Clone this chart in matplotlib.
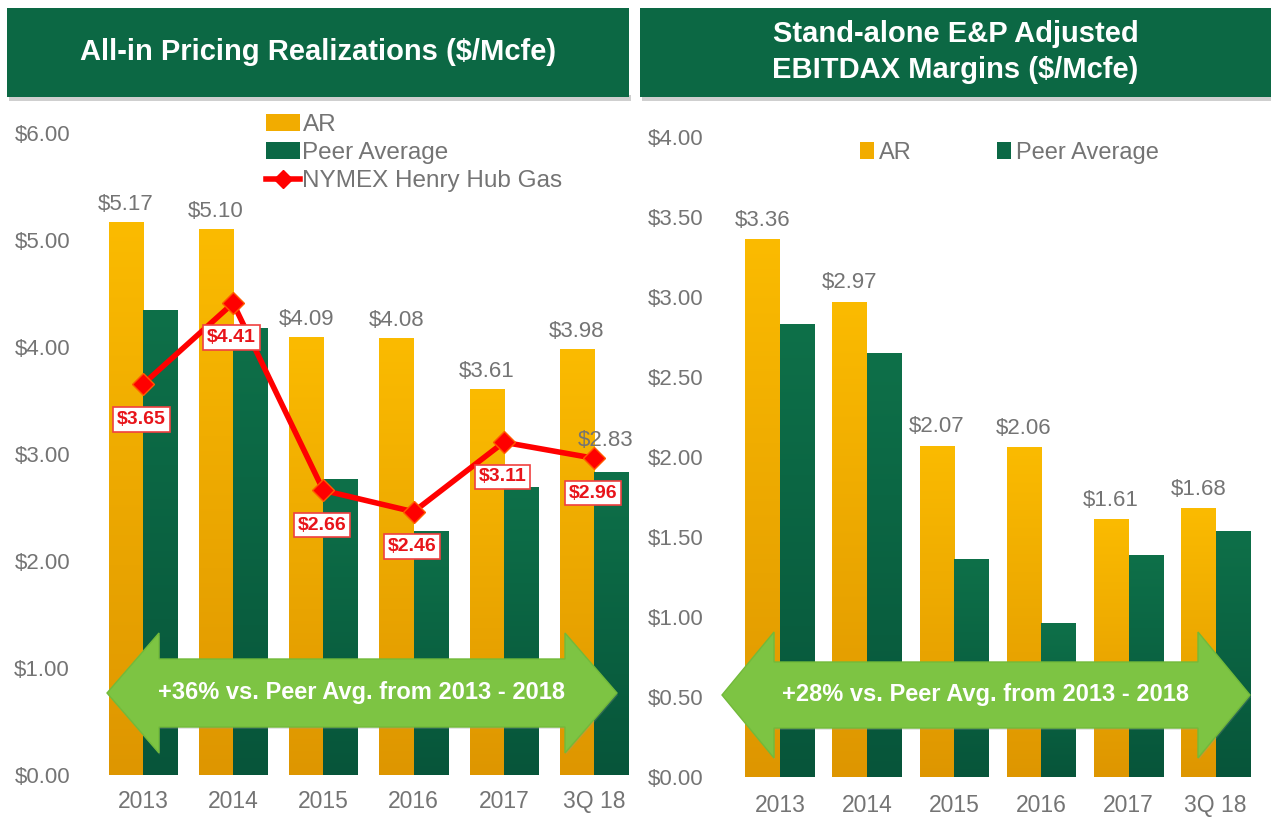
import numpy as np
import matplotlib
matplotlib.use("Agg")
import matplotlib.pyplot as plt
from matplotlib.patches import Polygon, Rectangle
from matplotlib.colors import LinearSegmentedColormap
from matplotlib.lines import Line2D

plt.rcParams['font.family'] = ['Liberation Sans', 'DejaVu Sans']

# data
years = ["2013", "2014", "2015", "2016", "2017", "3Q 18"]
ar_price = [5.17, 5.10, 4.09, 4.08, 3.61, 3.98]
peer_price = [4.35, 4.18, 2.77, 2.28, 2.69, 2.83]
nymex = [3.65, 4.41, 2.66, 2.46, 3.11, 2.96]
ar_margin = [3.36, 2.97, 2.07, 2.06, 1.61, 1.68]
peer_margin = [2.83, 2.65, 1.36, 0.96, 1.39, 1.54]

left_ticks = [0, 1, 2, 3, 4, 5, 6]
right_ticks = [0, 0.5, 1.0, 1.5, 2.0, 2.5, 3.0, 3.5, 4.0]

GOLD = "#F2AC00"
GREEN = "#0B6845"
GRAY = "#747474"
RED = "#FF0000"
HEAD = "#0C6844"
ARROW = "#7DC443"

W, H = 1271, 823
fig = plt.figure(figsize=(W / 100, H / 100), dpi=100)
fig.patch.set_facecolor("white")


def px(x, y):
    return x / W, 1 - y / H


def fbox(x0, y0, x1, y1):
    l, t = px(x0, y0)
    r, b = px(x1, y1)
    return [l, b, r - l, t - b]


gold_cm = LinearSegmentedColormap.from_list("g", ["#DE9600", "#FBBB00"])
green_cm = LinearSegmentedColormap.from_list("e", ["#07553A", "#0E7049"])


def shade(ax, bars, cmap):
    grad = np.linspace(0, 1, 256).reshape(-1, 1)
    for b in bars:
        x0, w, h = b.get_x(), b.get_width(), b.get_height()
        im = ax.imshow(grad, extent=[x0, x0 + w, 0, h], origin="lower",
                       aspect="auto", cmap=cmap, zorder=2)
        im.set_clip_path(b)


def style(ax, ticks, fmt, ypad, xpad):
    for s in ax.spines.values():
        s.set_visible(False)
    ax.set_yticks(ticks)
    ax.set_yticklabels([fmt.format(t) for t in ticks])
    ax.set_xticks(range(len(years)))
    ax.set_xticklabels(years)
    ax.tick_params(axis="y", length=0, pad=ypad, labelsize=16, labelcolor=GRAY)
    ax.tick_params(axis="x", length=0, pad=xpad, labelsize=16.5, labelcolor=GRAY)


def big_arrow(x0, x1, yc, head, body, text):
    hl = 52
    pts = [(x0, yc), (x0 + hl, yc - head), (x0 + hl, yc - body),
           (x1 - hl, yc - body), (x1 - hl, yc - head), (x1, yc),
           (x1 - hl, yc + head), (x1 - hl, yc + body), (x0 + hl, yc + body),
           (x0 + hl, yc + head)]
    sh = Polygon([px(x + 1, y + 2) for x, y in pts], closed=True,
                 transform=fig.transFigure, fc="#9a9a9a", ec="none",
                 alpha=0.25, zorder=5)
    poly = Polygon([px(x, y) for x, y in pts], closed=True,
                   transform=fig.transFigure, fc=ARROW, ec="#72BA3A",
                   lw=1, zorder=6)
    fig.add_artist(sh)
    fig.add_artist(poly)
    tx, ty = px((x0 + x1) / 2, yc)
    fig.text(tx, ty, text, color="white", fontsize=17, fontweight="bold",
             ha="center", va="center", zorder=7)


# header banners
for (x0, x1, title) in [(7, 629, "All-in Pricing Realizations ($/Mcfe)"),
                        (640, 1271, "Stand-alone E&P Adjusted\nEBITDAX Margins ($/Mcfe)")]:
    fig.add_artist(Rectangle(px(x0 + 2, 101), (x1 - x0) / W, 6 / H,
                             transform=fig.transFigure, fc="#cfcfcf",
                             ec="none", zorder=1))
    fig.add_artist(Rectangle(px(x0, 97), (x1 - x0) / W, 89 / H,
                             transform=fig.transFigure, fc=HEAD, ec="none",
                             zorder=2))
    cx, cy = px((x0 + x1) / 2, 52)
    fig.text(cx, cy, title, color="white", fontsize=21, fontweight="bold",
             ha="center", va="center", linespacing=1.35, zorder=3)

# left chart
x = np.arange(len(years))
bw = 0.38
ax1 = fig.add_axes(fbox(95, 133, 632, 775))
b1 = ax1.bar(x - bw / 2, ar_price, bw, color=GOLD, zorder=2)
b2 = ax1.bar(x + bw / 2, peer_price, bw, color=GREEN, zorder=2)
shade(ax1, b1, gold_cm)
shade(ax1, b2, green_cm)
ax1.plot(x, nymex, color=RED, lw=4, marker="D", ms=11,
         mfc=RED, mec="#FF5A00", mew=1, zorder=4)
for i, v in enumerate(ar_price):
    ax1.annotate("${:.2f}".format(v), (x[i] - bw / 2, v), xytext=(0, 5),
                 textcoords="offset points", ha="center", va="bottom",
                 fontsize=16, color=GRAY, zorder=5)
ax1.annotate("${:.2f}".format(peer_price[-1]), (x[-1] + bw / 2, peer_price[-1]),
             xytext=(-4, 15), textcoords="offset points", ha="center",
             va="bottom", fontsize=16, color=GRAY, zorder=5)
for i, v in enumerate(nymex):
    ax1.annotate("${:.2f}".format(v), (x[i], v), xytext=(-1, -25),
                 textcoords="offset points", ha="center", va="center",
                 fontsize=14, fontweight="bold", color="#E8141A", zorder=6,
                 bbox=dict(boxstyle="square,pad=0.2", fc="white",
                           ec="#F04040", lw=1.2))
ax1.set_xlim(-0.53, 5.42)
ax1.set_ylim(0, 6)
style(ax1, left_ticks, "${:.2f}", 18, 11)

h1 = [Rectangle((0, 0), 1, 1, fc=GOLD), Rectangle((0, 0), 1, 1, fc=GREEN),
      Line2D([], [], color=RED, lw=4, marker="D", ms=9)]
fig.legend(h1, ["AR", "Peer Average", "NYMEX Henry Hub Gas"],
           loc="upper left", bbox_to_anchor=px(266, 114), frameon=False,
           fontsize=17.5, labelcolor=GRAY, handlelength=1.4, handleheight=0.7,
           handletextpad=0.1, labelspacing=0.25, borderpad=0, borderaxespad=0)

# right chart
bw2 = 0.40
ax2 = fig.add_axes(fbox(720, 137, 1268, 777))
c1 = ax2.bar(x - bw2 / 2, ar_margin, bw2, color=GOLD, zorder=2)
c2 = ax2.bar(x + bw2 / 2, peer_margin, bw2, color=GREEN, zorder=2)
shade(ax2, c1, gold_cm)
shade(ax2, c2, green_cm)
for i, v in enumerate(ar_margin):
    ax2.annotate("${:.2f}".format(v), (x[i] - bw2 / 2, v), xytext=(0, 6),
                 textcoords="offset points", ha="center", va="bottom",
                 fontsize=16, color=GRAY, zorder=5)
ax2.set_xlim(-0.69, 5.6)
ax2.set_ylim(0, 4)
style(ax2, right_ticks, "${:.2f}", 12, 12)

h2 = [Rectangle((0, 0), 1, 1, fc=GOLD), Rectangle((0, 0), 1, 1, fc=GREEN)]
fig.legend(h2, ["AR", "Peer Average"], loc="upper left",
           bbox_to_anchor=px(860, 142), frameon=False, ncol=2,
           fontsize=17, labelcolor=GRAY, handlelength=0.6, handleheight=0.7,
           handletextpad=0.2, columnspacing=3.6, borderpad=0, borderaxespad=0)

# arrows
big_arrow(107, 617, 693, 60, 34, "+36% vs. Peer Avg. from 2013 - 2018")
big_arrow(722, 1250, 695, 63, 33, "+28% vs. Peer Avg. from 2013 - 2018")

fig.savefig("out.png", dpi=100, facecolor="white")
